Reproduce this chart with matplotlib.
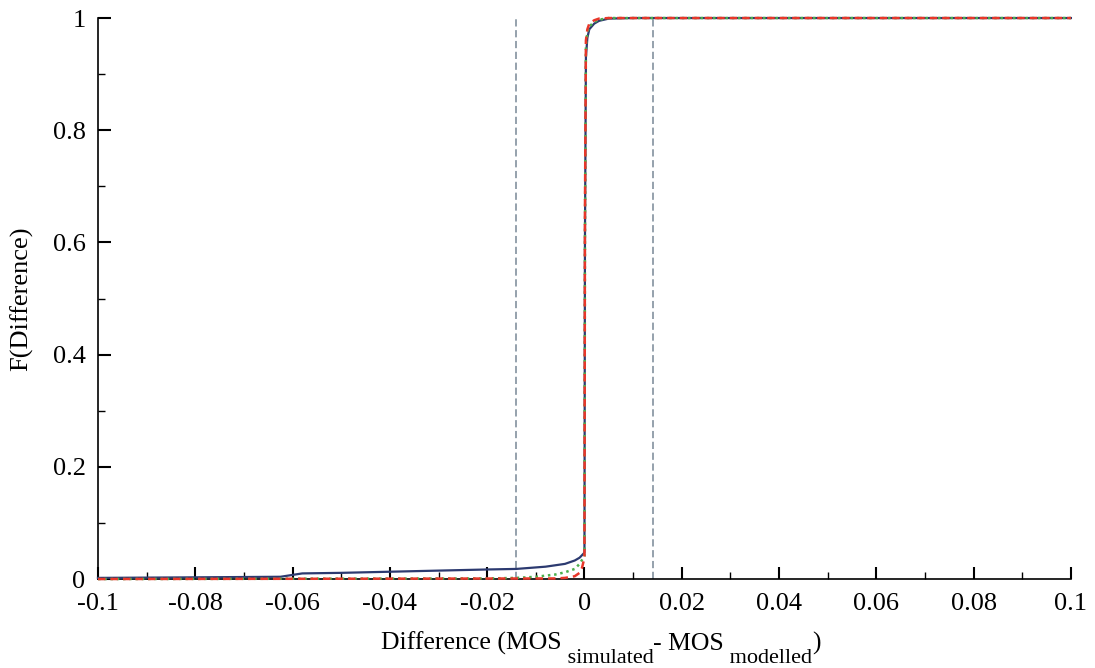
import numpy as np
import matplotlib
matplotlib.use("Agg")
import matplotlib.pyplot as plt
from matplotlib.ticker import MultipleLocator, FuncFormatter

plt.rcParams['font.family'] = ['Liberation Serif', 'DejaVu Serif']

x_blue = [-0.1, -0.08, -0.0625, -0.058, -0.05, -0.04, -0.03, -0.02, -0.014, -0.008, -0.004,
          -0.002, -0.001, 0.0, 0.0001, 0.0003, 0.0006, 0.001, 0.002, 0.003, 0.005, 0.01, 0.1]
f_blue = [0.002, 0.003, 0.004, 0.010, 0.011, 0.013, 0.015, 0.017, 0.018, 0.022, 0.027,
          0.033, 0.038, 0.047, 0.6, 0.93, 0.965, 0.98, 0.99, 0.995, 0.999, 1.0, 1.0]

x_green = [-0.1, -0.02, -0.014, -0.01, -0.006, -0.004, -0.002, -0.001, 0.0, 0.0001, 0.0003,
           0.0006, 0.001, 0.002, 0.003, 0.005, 0.1]
f_green = [0.0, 0.001, 0.002, 0.004, 0.008, 0.012, 0.018, 0.027, 0.041, 0.6, 0.95,
           0.975, 0.985, 0.993, 0.997, 1.0, 1.0]

x_red = [-0.1, -0.006, -0.004, -0.002, -0.001, -0.0005, 0.0, 0.0001, 0.0003, 0.0006, 0.001,
         0.002, 0.003, 0.005, 0.1]
f_red = [0.0, 0.001, 0.002, 0.005, 0.011, 0.02, 0.038, 0.65, 0.96, 0.98, 0.99,
         0.996, 0.999, 1.0, 1.0]

thresholds = [-0.014, 0.014]

W, H = 1095, 668
fig = plt.figure(figsize=(W / 100, H / 100), dpi=100)
ax = fig.add_axes([0.0895, 0.1332, 0.8885, 0.8398])

for t in thresholds:
    ax.axvline(t, color='#8c9aa6', linestyle=(0, (4, 2)), linewidth=1.3, zorder=1)

ax.plot(x_blue, f_blue, color='#2c3a70', linewidth=1.6, clip_on=False, zorder=3)
ax.plot(x_green, f_green, color='#4caf4c', linestyle=(0, (1, 1.5)), linewidth=1.8, clip_on=False, zorder=4)
ax.plot(x_red, f_red, color='#e8372a', linestyle=(0, (3, 2)), linewidth=1.8, clip_on=False, zorder=5)

ax.set_xlim(-0.1, 0.1)
ax.set_ylim(0, 1)
ax.spines['top'].set_visible(False)
ax.spines['right'].set_visible(False)
ax.spines['left'].set_linewidth(1.2)
ax.spines['bottom'].set_linewidth(1.2)

def tick_fmt(v, pos):
    v = round(v, 6)
    if abs(v) < 1e-9:
        return '0'
    return '%g' % v

ax.xaxis.set_major_locator(MultipleLocator(0.02))
ax.xaxis.set_minor_locator(MultipleLocator(0.01))
ax.yaxis.set_major_locator(MultipleLocator(0.2))
ax.yaxis.set_minor_locator(MultipleLocator(0.1))
ax.xaxis.set_major_formatter(FuncFormatter(tick_fmt))
ax.yaxis.set_major_formatter(FuncFormatter(tick_fmt))
ax.tick_params(which='major', direction='in', length=9, width=1.5, labelsize=19)
ax.tick_params(axis='x', which='major', pad=10)
ax.tick_params(axis='y', which='major', pad=9)
ax.tick_params(which='minor', direction='in', length=5, width=1.0)

ax.set_ylabel('F(Difference)', fontsize=19, labelpad=14)

# x label with large, lowered subscripts, laid out piece by piece
pieces = [('Difference (MOS', 18.5, 0), (' simulated', 16, -13), ('- MOS', 18.5, 0),
          (' modelled', 16, -13), (')', 18.5, 0)]
renderer = fig.canvas.get_renderer()
x_px, base_px = 381, H - 650
for txt, size, dy in pieces:
    t = fig.text(x_px / W, (base_px + dy) / H, txt, fontsize=size, ha='left', va='baseline')
    x_px += t.get_window_extent(renderer).width

fig.savefig('out.png', dpi=100)
